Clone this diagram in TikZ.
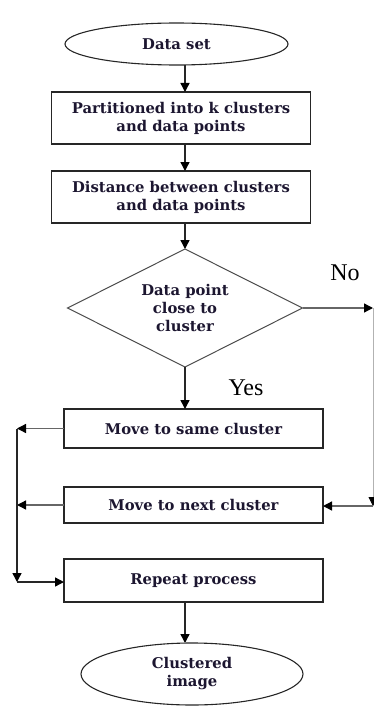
\documentclass[tikz,border=0pt]{standalone}
\usepackage{fontspec}
\usetikzlibrary{shapes.geometric,arrows.meta}
\newfontfamily\boxfont{DejaVu Serif}
\newfontfamily\labelfont{Liberation Serif}
\definecolor{txt}{RGB}{28,22,48}
\tikzset{
  every node/.style={inner sep=0pt, outer sep=0pt},
  boxtext/.style={font=\boxfont\bfseries\fontsize{14.8}{18}\selectfont, text=txt, align=center},
  terminal/.style={ellipse, draw=black!85, line width=1.1pt, boxtext},
  stepbox/.style={rectangle, draw=black!85, line width=1.1pt, minimum width=259pt, boxtext},
  decision/.style={diamond, draw=black!70, line width=1pt, aspect=2, minimum width=235pt, minimum height=118pt, boxtext},
  tip/.style={-{Triangle[length=9pt,width=9pt,color=black]}},
  arr/.style={line width=1.4pt, draw=black!85, tip},
  sidearr/.style={line width=1.3pt, draw=black!60, tip},
  faintarr/.style={line width=0.8pt, draw=black!30, tip},
  answer/.style={font=\labelfont\fontsize{24}{24}\selectfont, text=black},
}
\begin{document}
\begin{tikzpicture}[x=1pt, y=-1pt]
  \useasboundingbox (0,0) rectangle (374,706);

  % main column
  \node[terminal, minimum width=223pt, minimum height=42pt] (ds) at (176.5,44) {Data set};
  \node[stepbox, minimum height=52pt] (b1) at (181,118) {Partitioned into k clusters\\and data points};
  \node[stepbox, minimum height=52pt] (b2) at (181,197) {Distance between clusters\\and data points};
  \node[decision] (dec) at (185,308) {Data point\\close to\\cluster};
  \node[stepbox, minimum height=39pt] (b3) at (193.5,428.5) {Move to same cluster};
  \node[stepbox, minimum height=36pt] (b4) at (193.5,505) {Move to next cluster};
  \node[stepbox, minimum height=43pt] (b5) at (193.5,580.5) {Repeat process};
  \node[terminal, minimum width=222pt, minimum height=62pt] (ce) at (192,674) {Clustered\\image};

  % branch labels
  \node[answer] (no) at (345,273) {No};
  \node[answer] (yes) at (246,388) {Yes};

  % routing points of the two side loops
  \coordinate (L1) at (17,428.5);
  \coordinate (L2) at (17,582);
  \coordinate (R1) at (373,308);
  \coordinate (R2) at (373,506);

  % vertical flow
  \draw[arr] (dec.north |- ds.south) -- (dec.north |- b1.north);
  \draw[arr] (dec.north |- b1.south) -- (dec.north |- b2.north);
  \draw[arr] (dec.north |- b2.south) -- (dec.north);
  \draw[arr] (dec.south) -- (dec.south |- b3.north);
  \draw[arr] (dec.south |- b5.south) -- (dec.south |- ce.north);

  % left loop back into the repeat step
  \draw[sidearr] (b3.west) -- (L1);
  \draw[sidearr] (b4.west) -- (b4.west -| L1);
  \draw[arr] (L1) -- (L2);
  \draw[arr] (L2) -- (L2 -| b5.west);

  % "No" branch on the right
  \draw[sidearr] (dec.east) -- (R1);
  \draw[faintarr] (R1) -- (R2);
  \draw[sidearr] (R2) -- (R2 -| b4.east);
\end{tikzpicture}
\end{document}
